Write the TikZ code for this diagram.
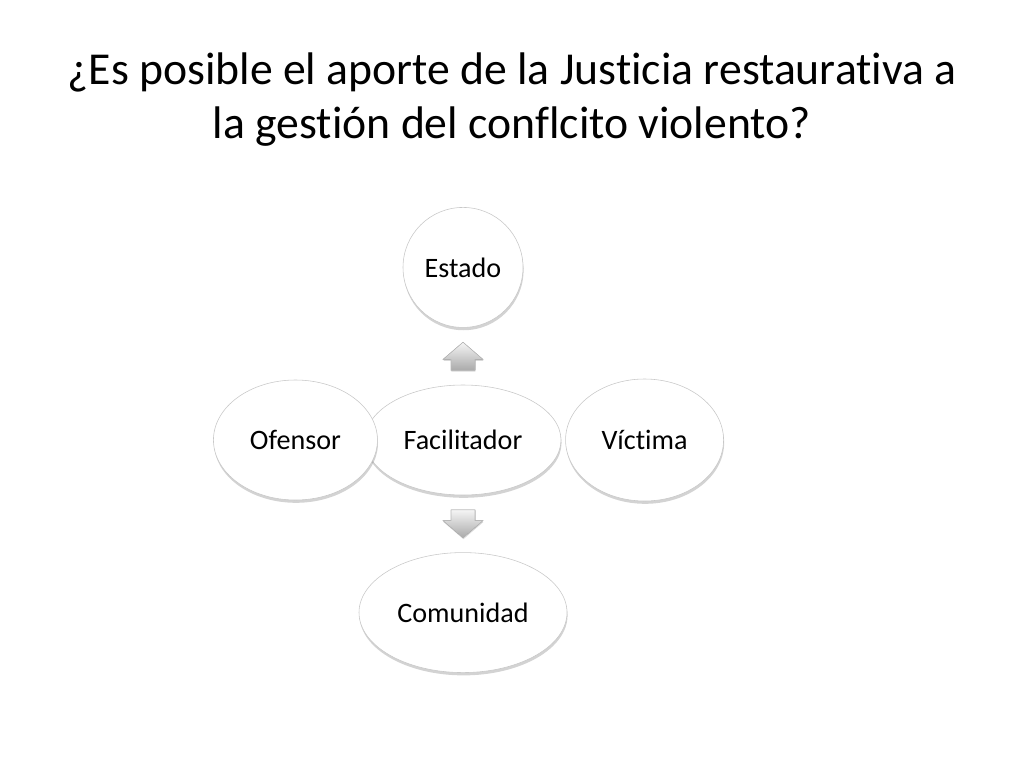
\documentclass[tikz,border=0pt]{standalone}
\usepackage{fontspec}
\setmainfont[Ligatures=NoCommon]{Carlito}
\usepackage{xcolor}
\usetikzlibrary{shapes,arrows,positioning,shadows,calc}
\definecolor{rim}{RGB}{200,200,200}
\definecolor{arrowfill}{RGB}{170,170,170}

\begin{document}
\begin{tikzpicture}[
    actor/.style={ellipse, draw=rim, fill=white, thin, inner sep=0pt, minimum height=3cm, font=\fontsize{20}{24}\selectfont,
        drop shadow={shadow xshift=0.4pt, shadow yshift=-2pt, opacity=0.35, fill=gray}},
    blockarrow/.style={draw=gray!55, thin, top color=gray!8, bottom color=arrowfill,
        drop shadow={shadow xshift=0.3pt, shadow yshift=-1pt, opacity=0.3, fill=gray}},
    title/.style={align=center, font=\fontsize{32.5}{38.5}\selectfont}
]
    \useasboundingbox (0,0) rectangle (25.6,-19.2);
    \node[title] (heading) at (12.8,-2.5) {¿Es posible el aporte de la Justicia restaurativa a\\la gestión del conflcito violento?};

    \node[actor, minimum width=4.9cm, minimum height=2.75cm] (fac) at (11.575,-11.0) {Facilitador};
    \node[actor, minimum width=4.1cm, left=-0.325cm of fac] (ofensor) {Ofensor};
    \node[actor, minimum width=3.95cm, minimum height=3.05cm, right=0.1cm of fac] (victima) {Víctima};
    \node[actor, circle, minimum size=3cm, above=1.425cm of fac] (estado) {Estado};
    \node[actor, minimum width=5.2cm, below=1.425cm of fac] (comunidad) {Comunidad};

    \coordinate (upmid) at ($(estado.south)!0.5!(fac.north)$);
    \coordinate (downmid) at ($(fac.south)!0.5!(comunidad.north)$);
    \filldraw[blockarrow] ($(upmid)+(-0.3,-0.35)$) -- ++(0,0.27) -- ++(-0.2,0) -- ++(0.5,0.43)
        -- ++(0.5,-0.43) -- ++(-0.2,0) -- ++(0,-0.27) -- cycle;
    \filldraw[blockarrow] ($(downmid)+(-0.3,0.35)$) -- ++(0,-0.27) -- ++(-0.2,0) -- ++(0.5,-0.43)
        -- ++(0.5,0.43) -- ++(-0.2,0) -- ++(0,0.27) -- cycle;
\end{tikzpicture}
\end{document}
